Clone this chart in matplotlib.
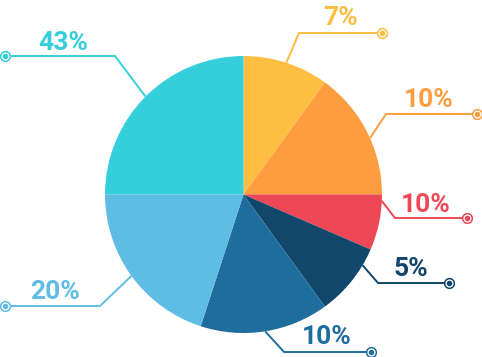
import numpy as np
import matplotlib
matplotlib.use("Agg")
import matplotlib.pyplot as plt

# slice sizes as drawn (clockwise from 12 o'clock) and the printed labels
sizes = [10, 15, 6.5, 8.5, 15, 20, 25]
labels = ["7%", "10%", "10%", "5%", "10%", "20%", "43%"]
colors = ["#FDBE41", "#FE9D40", "#EE4756", "#11476A", "#1E6D9D", "#5FBDE3", "#35CFDB"]

W, H = 482, 357
cx, cy, r = 243.5, 194.5, 138.5   # pie centre / radius in pixels (y down)

# leader layout in pixels (y down): elbow, end of horizontal run, label centre
elbows = [(299, 33), (386, 114), (395, 218), (378, 283), (284, 352), (100, 306), (115, 56)]
ends = [(382, 33), (477, 114), (467, 218), (449, 283), (371, 352), (5, 306), (5, 56)]
text_pos = [(341, 25), (429, 107), (426, 212), (411, 276), (327, 344), (55, 299), (63, 50)]
angle_shift = [0, 3, -9, -8, 0, 0, 0]   # nudges leader start along the rim (deg, clockwise)

plt.rcParams['font.family'] = ['Roboto', 'DejaVu Sans']

fig = plt.figure(figsize=(W / 100, H / 100), dpi=100)
ax = fig.add_axes([0, 0, 1, 1])

ax.pie(sizes, colors=colors, startangle=90, counterclock=False,
       radius=r, center=(cx, H - cy), wedgeprops=dict(linewidth=0))

total = sum(sizes)
cum = np.cumsum([0] + sizes[:-1])
for i, lab in enumerate(labels):
    theta = np.deg2rad(90 - 360 * (cum[i] + sizes[i] / 2) / total - angle_shift[i])
    sx = cx + r * np.cos(theta)
    sy = (H - cy) + r * np.sin(theta)
    ex, ey = elbows[i]
    fx, fy = ends[i]
    c = colors[i]
    ax.plot([sx, ex, fx], [sy, H - ey, H - fy], color=c, lw=1.4,
            solid_capstyle='butt', zorder=3)
    ax.plot(fx, H - fy, marker='o', ms=7, mfc='white', mec=c, mew=1.1, zorder=4)
    ax.plot(fx, H - fy, marker='o', ms=4, mfc=c, mec=c, mew=0, zorder=5)
    tx, ty = text_pos[i]
    ax.text(tx, H - ty, lab, color=c, fontsize=19, fontweight='bold',
            ha='center', va='baseline')

ax.set_xlim(0, W)
ax.set_ylim(0, H)
ax.set_aspect('auto')
ax.axis('off')

fig.savefig("out.png", dpi=100)
plt.close()
